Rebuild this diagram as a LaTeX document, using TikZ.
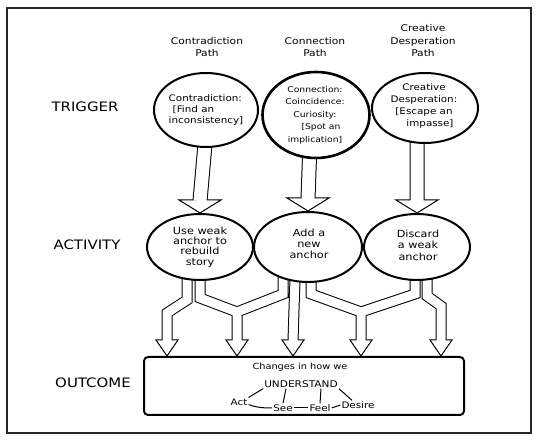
\documentclass[tikz,border=0pt]{standalone}
\usepackage{fontspec}
\setmainfont{DejaVu Sans}[FakeStretch=1.15]
\usetikzlibrary{shapes.geometric,backgrounds,calc}

\begin{document}
\begin{tikzpicture}[x=1pt,y=-1pt,
  oval/.style={ellipse,draw,line width=2pt,fill=white,inner sep=0pt},
  words/.style={align=center,inner sep=0pt},
  rowname/.style={inner sep=0pt,font=\fontsize{13}{15}\selectfont},
  pathname/.style={words,anchor=south,font=\fontsize{9.3}{12.5}\selectfont},
  boxword/.style={inner sep=1pt,font=\fontsize{9}{11}\selectfont},
  shaft/.style={line width=#1,line join=miter}]
\useasboundingbox (0,0) rectangle (539,443);
\draw[line width=1.2pt,black!85] (7,8) rectangle (531,433);

% row names
\node[rowname] (rtrig) at (85,107) {TRIGGER};
\node[rowname] (ract) at (87,245) {ACTIVITY};
\node[rowname] (rout) at (93,383) {OUTCOME};

% path names
\node[pathname] (pcontra) at (207,57) {Contradiction\\Path};
\node[pathname] (pconnect) at (315,57) {Connection\\Path};
\node[pathname] (pcreate) at (423,57) {Creative\\Desperation\\Path};

% triggers
\node[oval,minimum width=104,minimum height=74] (t1) at (206,110) {};
\node[oval,line width=2.6pt,minimum width=107,minimum height=86] (t2) at (316,115) {};
\node[oval,minimum width=106,minimum height=70] (t3) at (425,108) {};
\node[words,align=left,font=\fontsize{9}{11}\selectfont] (t1txt) at (t1) {Contradiction:\\\hspace*{4pt}[Find an\\inconsistency]};
\node[words,font=\fontsize{8}{12.5}\selectfont] (t2txt) at (315,115) {Connection:\\Coincidence:\\Curiosity:\\\hspace*{12pt}[Spot an\\implication]};
\node[words,font=\fontsize{9}{11.7}\selectfont] (t3txt) at (424,106) {Creative\\Desperation:\\{}[Escape an\\\hspace*{12pt}impasse]};

% activities
\node[oval,minimum width=106,minimum height=66] (a1) at (200,247) {};
\node[oval,minimum width=108,minimum height=70] (a2) at (308,247) {};
\node[oval,minimum width=106,minimum height=66] (a3) at (417,247) {};
\node[words,font=\fontsize{9.8}{10.3}\selectfont] (a1txt) at (a1) {Use weak\\anchor to\\rebuild\\story};
\node[words,font=\fontsize{9.8}{11}\selectfont] (a2txt) at (309,244) {Add a\\new\\anchor};
\node[words,font=\fontsize{9.8}{11.5}\selectfont] (a3txt) at (418,245) {Discard\\a weak\\anchor};

% outcome
\node[draw,line width=2pt,rounded corners=4pt,minimum width=320,minimum height=58,inner sep=0pt] (out) at (304,386) {};
\node[boxword,font=\fontsize{8.5}{10}\selectfont] (chg) at (300,367) {Changes in how we};
\node[boxword,font=\fontsize{9.2}{11}\selectfont] (und) at (301,384) {UNDERSTAND};
\node[boxword] (act) at (239,402) {Act};
\node[boxword] (see) at (283,408) {See};
\node[boxword] (feel) at (320,408) {Feel};
\node[boxword] (des) at (358,405) {Desire};
\draw[line width=1pt] (und.south west) -- (act.north east);
\draw[line width=1pt] (act.-15) to[out=-20,in=180] (see.west);
\draw[line width=1pt] ($(und.south)+(-15,0)$) -- (see.north);
\draw[line width=1pt] (see.east) -- (feel.west);
\draw[line width=1pt] ($(und.south)+(20,0)$) -- (feel.north);
\draw[line width=1pt] (feel.east) -- (des.west);
\draw[line width=1pt] (und.south east) -- ($(des.north)+(-6,0)$);

% arrow tips on the outcome box
\coordinate (h1) at ($(out.north west)+(24,0)$);
\coordinate (h2) at ($(out.north west)+(94,0)$);
\coordinate (h3) at ($(out.north west)+(150,0)$);
\coordinate (h4) at ($(out.north west)+(218,0)$);
\coordinate (h5) at ($(out.north west)+(298,0)$);

% hollow arrows: black pass, heads, white pass
\def\topshafts{($(t1.center)+(2,0)$) -- ($(a1.north)+(0,-12)$)
  ($(t2.center)+(-5,0)$) -- ($(a2.north)+(0,-12)$)
  ($(t3.center)+(-8,0)$) -- ($(a3.north)+(0,-12)$)}
\def\lowshafts{($(a1.center)+(-13,0)$) -- ++(0,53) -- ($(h1)+(0,-43)$) -- ($(h1)+(0,-15)$)
  (a1.center) -- ++(0,51) -- ($(h2)+(0,-44)$) -- ($(h2)+(0,-15)$)
  ($(a2.center)+(-25,0)$) -- ++(0,47) -- ($(h2)+(0,-44)$) -- ($(h2)+(0,-36)$)
  ($(a2.center)+(-12,0)$) -- ($(h3)+(0,-15)$)
  ($(a2.center)+(3,0)$) -- ++(0,47) -- ($(h4)+(0,-44)$) -- ($(h4)+(0,-15)$)
  ($(a3.center)+(-2,0)$) -- ++(0,47) -- ($(h4)+(0,-44)$) -- ($(h4)+(0,-36)$)
  ($(a3.center)+(10,0)$) -- ++(0,49) -- ($(h5)+(0,-50)$) -- ($(h5)+(0,-15)$)}
\begin{pgfonlayer}{background}
\draw[shaft=15pt] \topshafts;
\draw[shaft=11pt] \lowshafts;
\foreach \h in {h1,h2,h3,h4,h5}
  \filldraw[fill=white,line width=1pt] (\h) -- ++(-11,-16) -- ++(22,0) -- cycle;
\foreach \a in {a1,a2,a3}
  \filldraw[fill=white,line width=1pt] (\a.north) -- ++(-21,-13) -- ++(42,0) -- cycle;
\draw[shaft=13pt,white] \topshafts;
\draw[shaft=9pt,white] \lowshafts;
\end{pgfonlayer}
\end{tikzpicture}
\end{document}
